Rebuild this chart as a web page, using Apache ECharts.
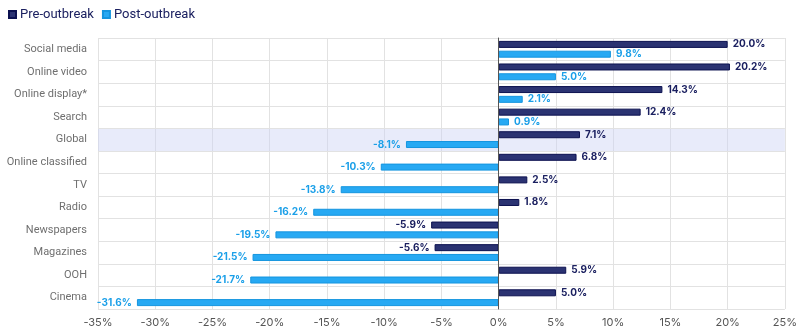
<!DOCTYPE html>
<html>
<head>
<meta charset="utf-8">
<script src="https://cdn.jsdelivr.net/npm/echarts@6/dist/echarts.min.js"></script>
<style>
  html, body { margin: 0; padding: 0; background: #fff; }
  #chart { width: 800px; height: 334px; }
</style>
</head>
<body>
<div id="chart"></div>
<script>
// Ad spend growth by medium, before and after the outbreak (%)
const categories = ['Social media', 'Online video', 'Online display*', 'Search', 'Global',
  'Online classified', 'TV', 'Radio', 'Newspapers', 'Magazines', 'OOH', 'Cinema'];
const preOutbreak = [20.0, 20.2, 14.3, 12.4, 7.1, 6.8, 2.5, 1.8, -5.9, -5.6, 5.9, 5.0];
const postOutbreak = [9.8, 5.0, 2.1, 0.9, -8.1, -10.3, -13.8, -16.2, -19.5, -21.5, -21.7, -31.6];
const xTicks = { min: -35, max: 25, step: 5 };
const highlighted = 'Global';

const PRE = '#2b3372', PRE_EDGE = '#0c1150', PRE_TEXT = '#1b2060';
const POST = '#27a9f3', POST_EDGE = '#1595df', POST_TEXT = '#1a9fe8';

const fmt = v => v.toFixed(1) + '%';
const lbl = (color, v) => ({
  show: true,
  color: color,
  fontFamily: 'Inter, Roboto, sans-serif',
  fontSize: 10,
  fontWeight: 'bold',
  distance: 5,
  formatter: p => fmt(p.value),
  position: v < 0 ? 'left' : 'right'
});
const withSide = (arr, color) => arr.map(v => ({ value: v, label: lbl(color, v) }));

// band behind the highlighted row, spanning the full value range
const bandPos = categories.map(c => c === highlighted ? xTicks.max : null);
const bandNeg = categories.map(c => c === highlighted ? xTicks.min : null);

const chart = echarts.init(document.getElementById('chart'));
chart.setOption({
  animation: false,
  textStyle: { fontFamily: 'Roboto, sans-serif' },
  legend: {
    data: ['Pre-outbreak', 'Post-outbreak'],
    left: 3, top: 3,
    icon: 'rect', itemWidth: 7, itemHeight: 7, itemGap: 8,
    textStyle: { color: PRE_TEXT, fontSize: 13, fontFamily: 'Roboto, sans-serif', padding: [0, 0, 0, -1] }
  },
  grid: { left: 98, right: 15, top: 38, bottom: 25, containLabel: false },
  xAxis: {
    type: 'value',
    min: xTicks.min, max: xTicks.max, interval: xTicks.step,
    axisLabel: { formatter: v => v + '%', color: '#555', fontSize: 11, margin: 8,
      fontFamily: 'Inter, Roboto, sans-serif' },
    axisLine: { show: false },
    axisTick: { show: false },
    splitLine: { show: true, lineStyle: { color: '#e2e2e2' } }
  },
  yAxis: [{
    type: 'category',
    data: categories,
    inverse: true,
    axisLabel: { color: '#6f6f6f', fontSize: 11, margin: 11, fontFamily: 'Roboto, sans-serif' },
    axisTick: { show: false },
    axisLine: { show: true, onZero: true, lineStyle: { color: '#555', width: 1 } },
    splitLine: { show: true, lineStyle: { color: '#e2e2e2' } },
    z: 5
  }, {
    type: 'category',
    data: categories,
    inverse: true,
    show: false
  }],
  series: [{
    name: 'band+', type: 'bar', yAxisIndex: 1, data: bandPos,
    barWidth: '100%', barGap: '-100%', silent: true, z: 0,
    itemStyle: { color: 'rgba(205,210,245,0.45)' }
  }, {
    name: 'band-', type: 'bar', yAxisIndex: 1, data: bandNeg,
    barWidth: '100%', barGap: '-100%', silent: true, z: 0,
    itemStyle: { color: 'rgba(205,210,245,0.45)' }
  }, {
    name: 'Pre-outbreak', type: 'bar', data: withSide(preOutbreak, PRE_TEXT),
    barWidth: 7, barGap: '40%',
    itemStyle: { color: PRE, borderColor: PRE_EDGE, borderWidth: 1 },
    z: 3
  }, {
    name: 'Post-outbreak', type: 'bar', data: withSide(postOutbreak, POST_TEXT),
    barWidth: 7, barGap: '40%',
    itemStyle: { color: POST, borderColor: POST_EDGE, borderWidth: 1 },
    z: 3
  }]
});
</script>
</body>
</html>
